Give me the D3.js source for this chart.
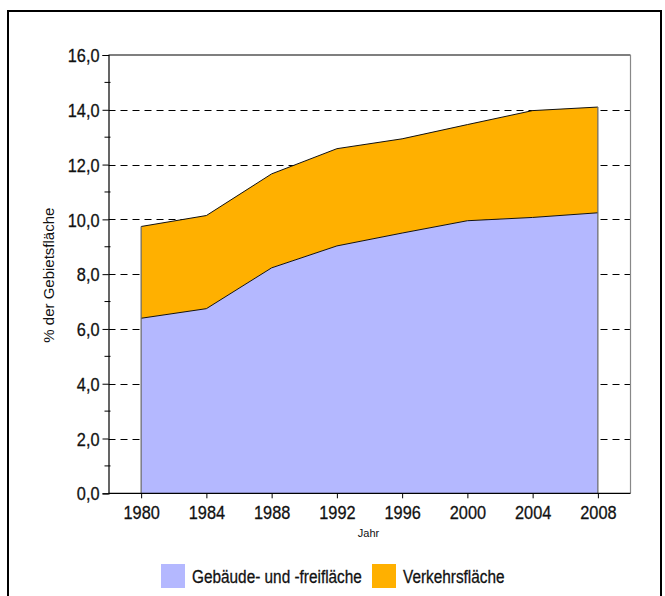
<!DOCTYPE html>
<html>
<head>
<meta charset="utf-8">
<script src="https://cdn.jsdelivr.net/npm/d3@7"></script>
<style>
  html, body { margin: 0; padding: 0; background: #fff; }
  svg { display: block; }
  .cond { font-family: "Liberation Sans", Arial, sans-serif; fill: #111; stroke: #111; stroke-width: 0.3px; }
</style>
</head>
<body>
<svg id="chart" width="665" height="596"></svg>
<script>
// Flächennutzung in % der Gebietsfläche
const years = ["1980", "1984", "1988", "1992", "1996", "2000", "2004", "2008"];
const gebaeudeFreiflaeche = [6.39, 6.74, 8.23, 9.03, 9.50, 9.95, 10.07, 10.24];
const verkehrsflaeche = [3.35, 3.40, 3.43, 3.55, 3.44, 3.51, 3.90, 3.86];
const seriesNames = ["Gebäude- und -freifläche", "Verkehrsfläche"];
const seriesColors = ["#b4b8ff", "#ffb000"];
const yTicks = [0, 2, 4, 6, 8, 10, 12, 14, 16];
const yMinorTicks = [1, 3, 5, 7, 9, 11, 13, 15];

// horizontal squeeze for the narrow label face
const SQUEEZE = 0.86;
const LEGEND_SQUEEZE = 0.83;

const svg = d3.select("#chart");

// outer frame
svg.append("rect")
  .attr("x", 8).attr("y", 11)
  .attr("width", 653).attr("height", 600)
  .attr("fill", "none").attr("stroke", "#000").attr("stroke-width", 2);

const plot = { left: 108.5, right: 630.5, top: 55, bottom: 493.3 };

const x = d3.scalePoint().domain(years)
  .range([plot.left, plot.right]).padding(0.5);
const y = d3.scaleLinear().domain([0, 16]).range([plot.bottom, plot.top]);

const rows = years.map((yr, i) => ({
  year: yr,
  geb: gebaeudeFreiflaeche[i],
  verk: verkehrsflaeche[i]
}));
const stacked = d3.stack().keys(["geb", "verk"])(rows);

// dashed gridlines (behind the areas)
svg.append("g").selectAll("line")
  .data(yTicks.filter(v => v > 0 && v < 16))
  .join("line")
  .attr("x1", plot.left).attr("x2", plot.right)
  .attr("y1", d => Math.round(y(d)) + 0.5).attr("y2", d => Math.round(y(d)) + 0.5)
  .attr("stroke", "#000").attr("stroke-width", 1)
  .attr("stroke-dasharray", "7,5");

// stacked areas
const area = d3.area()
  .x(d => x(d.data.year))
  .y0(d => y(d[0]))
  .y1(d => y(d[1]));

svg.append("g").selectAll("path")
  .data(stacked)
  .join("path")
  .attr("d", area)
  .attr("fill", (d, i) => seriesColors[i])
  .attr("stroke", "none");

// outline of the top edges
const topLine = d3.line().x(d => x(d.data.year)).y(d => y(d[1]));
svg.append("g").selectAll("path")
  .data(stacked)
  .join("path")
  .attr("d", topLine)
  .attr("fill", "none").attr("stroke", "#111").attr("stroke-width", 1);

// vertical edges at first and last year
const first = years[0], last = years[years.length - 1];
const totalFirst = stacked[1][0][1], totalLast = stacked[1][years.length - 1][1];
svg.append("line")
  .attr("x1", x(first)).attr("x2", x(first))
  .attr("y1", y(0)).attr("y2", y(totalFirst))
  .attr("stroke", "#666").attr("stroke-width", 1.2);
svg.append("line")
  .attr("x1", x(last)).attr("x2", x(last))
  .attr("y1", y(0)).attr("y2", y(totalLast))
  .attr("stroke", "#666").attr("stroke-width", 1.2);

// plot frame: top black, right grey
svg.append("line")
  .attr("x1", plot.left).attr("x2", plot.right)
  .attr("y1", plot.top).attr("y2", plot.top)
  .attr("stroke", "#000").attr("stroke-width", 1.2);
svg.append("line")
  .attr("x1", plot.right).attr("x2", plot.right)
  .attr("y1", plot.top).attr("y2", plot.bottom)
  .attr("stroke", "#888").attr("stroke-width", 1.2);

// y axis
const yAxis = svg.append("g")
  .attr("transform", `translate(${plot.left},0)`)
  .call(d3.axisLeft(y).tickValues(yTicks).tickSize(6)
    .tickFormat(d => d3.format(".1f")(d).replace(".", ",")));
yAxis.attr("font-size", null).attr("font-family", null);
yAxis.select(".domain").attr("stroke", "#000").attr("stroke-width", 1.2);
yAxis.selectAll(".tick line").attr("stroke", "#000");
yAxis.selectAll(".tick text")
  .attr("class", "cond")
  .attr("font-size", 19)
  .attr("x", -9 / SQUEEZE)
  .attr("dy", "0.35em")
  .attr("transform", `scale(${SQUEEZE},1)`);

// minor ticks crossing the y axis
svg.append("g").selectAll("line")
  .data(yMinorTicks)
  .join("line")
  .attr("x1", plot.left - 4).attr("x2", plot.left + 2)
  .attr("y1", d => y(d)).attr("y2", d => y(d))
  .attr("stroke", "#000").attr("stroke-width", 1);

// x axis
const xAxis = svg.append("g")
  .attr("transform", `translate(0,${plot.bottom})`)
  .call(d3.axisBottom(x).tickSize(5).tickPadding(7));
xAxis.attr("font-size", null).attr("font-family", null);
xAxis.select(".domain").attr("stroke", "#000").attr("stroke-width", 1.2)
  .attr("d", `M${plot.left},0H${plot.right}`);
xAxis.selectAll(".tick line").attr("stroke", "#000");
xAxis.selectAll(".tick text")
  .attr("class", "cond")
  .attr("font-size", 19)
  .attr("transform", `scale(${SQUEEZE},1)`);

// axis titles
svg.append("text")
  .attr("x", (plot.left + plot.right) / 2 - 1).attr("y", 537)
  .attr("text-anchor", "middle")
  .attr("font-family", "Liberation Sans, Arial, sans-serif")
  .attr("font-size", 11).attr("fill", "#111")
  .text("Jahr");

svg.append("text")
  .attr("transform", `translate(54,${(plot.top + plot.bottom) / 2 + 1}) rotate(-90)`)
  .attr("text-anchor", "middle")
  .attr("font-family", "Liberation Sans, Arial, sans-serif")
  .attr("font-size", 15).attr("fill", "#111")
  .text("% der Gebietsfläche");

// legend
const legend = svg.append("g");
const legendX = [161, 372];
seriesNames.forEach((name, i) => {
  legend.append("rect")
    .attr("x", legendX[i]).attr("y", 564)
    .attr("width", 24).attr("height", 24)
    .attr("fill", seriesColors[i]);
  legend.append("text")
    .attr("class", "cond")
    .attr("font-size", 18.5)
    .attr("transform", `translate(${legendX[i] + 31},583) scale(${LEGEND_SQUEEZE},1)`)
    .text(name);
});
</script>
</body>
</html>
